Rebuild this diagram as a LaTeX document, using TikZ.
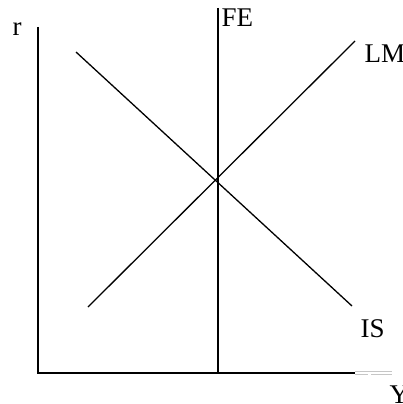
\documentclass[tikz,border=0pt]{standalone}
\usepackage{fontspec}
\setmainfont{Liberation Serif}

\begin{document}
\begin{tikzpicture}[x=1pt, y=-1pt, line width=1.3pt,
  lbl/.style={font=\fontsize{27}{31}\selectfont, inner sep=0pt},
  tail/.style={draw=gray!45, line width=0.6pt}]
  \useasboundingbox (0,0) rectangle (402,404);
  \coordinate (O) at (38,373);
  \coordinate (rtop) at (38,27);
  \coordinate (yend) at (355,373);
  \coordinate (FEtop) at (218,8);
  \coordinate (FEbot) at (218,373);
  \coordinate (LMa) at (88,307);
  \coordinate (LMb) at (355,41);
  \coordinate (ISa) at (76,52);
  \coordinate (ISb) at (352,306);
  \draw (rtop) -- (O) -- (yend);
  \draw (FEtop) -- (FEbot);
  \draw (LMa) -- (LMb);
  \draw (ISa) -- (ISb);
  % faint extension of the Y axis
  \draw[tail] (355,371.5) -- (392,371.5);
  \draw[tail] (355,374) -- (368,374) (371,374) -- (392,374);
  \node[lbl, anchor=base west] (r) at (12,36) {r};
  \node[lbl, anchor=base west] (FE) at (221,27) {FE};
  \node[lbl, anchor=base west] (LM) at (364,63) {LM};
  \node[lbl, anchor=base west] (IS) at (360,337) {IS};
  \node[lbl, anchor=base west] (Y) at (389,403) {Y};
\end{tikzpicture}
\end{document}
